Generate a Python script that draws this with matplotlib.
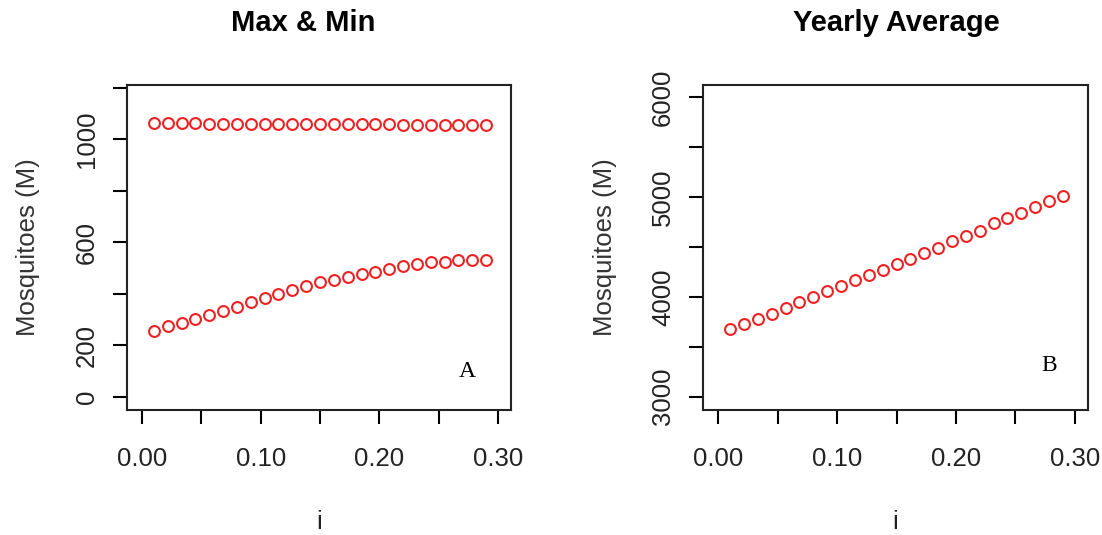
import matplotlib
matplotlib.use('Agg')
import matplotlib.pyplot as plt

# x values (i), 25 points from 0.01 to 0.29
i_vals = [0.0100, 0.0217, 0.0333, 0.0450, 0.0567, 0.0683, 0.0800, 0.0917, 0.1033,
          0.1150, 0.1267, 0.1383, 0.1500, 0.1617, 0.1733, 0.1850, 0.1967, 0.2083,
          0.2200, 0.2317, 0.2433, 0.2550, 0.2667, 0.2783, 0.2900]

# panel A: maximum and minimum mosquito numbers
max_vals = [1062, 1062, 1062, 1062, 1061, 1061, 1061, 1061, 1060, 1060, 1060, 1060, 1059,
            1059, 1059, 1058, 1058, 1058, 1057, 1057, 1056, 1056, 1056, 1055, 1055]
min_vals = [256, 273, 286, 303, 317, 333, 349, 366, 382, 398, 414, 429, 444,
            455, 466, 478, 486, 497, 508, 517, 523, 525, 530, 531, 532]

# panel B: yearly average
avg_vals = [3673, 3723, 3773, 3830, 3883, 3945, 3995, 4058, 4110, 4165, 4222, 4268, 4330,
            4378, 4440, 4492, 4555, 4607, 4660, 4740, 4793, 4843, 4900, 4960, 5010]

x_ticks = [0.00, 0.05, 0.10, 0.15, 0.20, 0.25, 0.30]
x_labels = ['0.00', '', '0.10', '', '0.20', '', '0.30']
ya_ticks = [0, 200, 400, 600, 800, 1000, 1200]
ya_labels = ['0', '200', '', '600', '', '1000', '']
yb_ticks = [3000, 3500, 4000, 4500, 5000, 5500, 6000]
yb_labels = ['3000', '', '4000', '', '5000', '', '6000']

plt.rcParams['font.family'] = ['Liberation Sans', 'DejaVu Sans']

W, H = 1102, 535
fig = plt.figure(figsize=(W / 100, H / 100), dpi=100, facecolor='white')


def px_axes(left, top, right, bottom):
    return fig.add_axes([left / W, 1 - bottom / H, (right - left) / W, (bottom - top) / H])


def style(ax, yticks, ylabels, ylim):
    ax.set_xlim(-0.0127, 0.311)
    ax.set_ylim(*ylim)
    ax.set_xticks(x_ticks)
    ax.set_xticklabels(x_labels, fontsize=18.5, color='#222222')
    ax.set_yticks(yticks)
    ax.set_yticklabels(ylabels, fontsize=18.5, rotation=90, va='center', color='#222222')
    ax.tick_params(axis='x', direction='out', length=10, width=1.5, pad=17)
    ax.tick_params(axis='y', direction='out', length=10, width=1.5, pad=10)
    for s in ax.spines.values():
        s.set_linewidth(1.5)
        s.set_color('#222222')
    ax.set_xlabel('i', fontsize=18.5, color='#222222', labelpad=28)
    ax.set_ylabel('Mosquitoes (M)', fontsize=18.5, color='#333333', labelpad=25)


mk = dict(marker='o', linestyle='none', markersize=7.8, markerfacecolor='none',
          markeredgecolor='#ee2222', markeredgewidth=1.5)

axA = px_axes(127, 85, 511, 410)
axA.plot(i_vals, max_vals, **mk)
axA.plot(i_vals, min_vals, **mk)
style(axA, ya_ticks, ya_labels, (-52, 1211))
axA.text(0.885, 0.118, 'A', transform=axA.transAxes, fontsize=17,
         family='Liberation Serif', ha='center', va='center')

axB = px_axes(703, 85, 1088, 410)
axB.plot(i_vals, avg_vals, **mk)
style(axB, yb_ticks, yb_labels, (2867, 6120))
axB.text(0.90, 0.138, 'B', transform=axB.transAxes, fontsize=17,
         family='Liberation Serif', ha='center', va='center')

fig.text(303 / W, 1 - 23 / H, 'Max & Min', fontsize=21, fontweight='bold',
         ha='center', va='center')
fig.text(896 / W, 1 - 23 / H, 'Yearly Average', fontsize=21, fontweight='bold',
         ha='center', va='center')

fig.savefig('out.png', dpi=100, facecolor='white')
